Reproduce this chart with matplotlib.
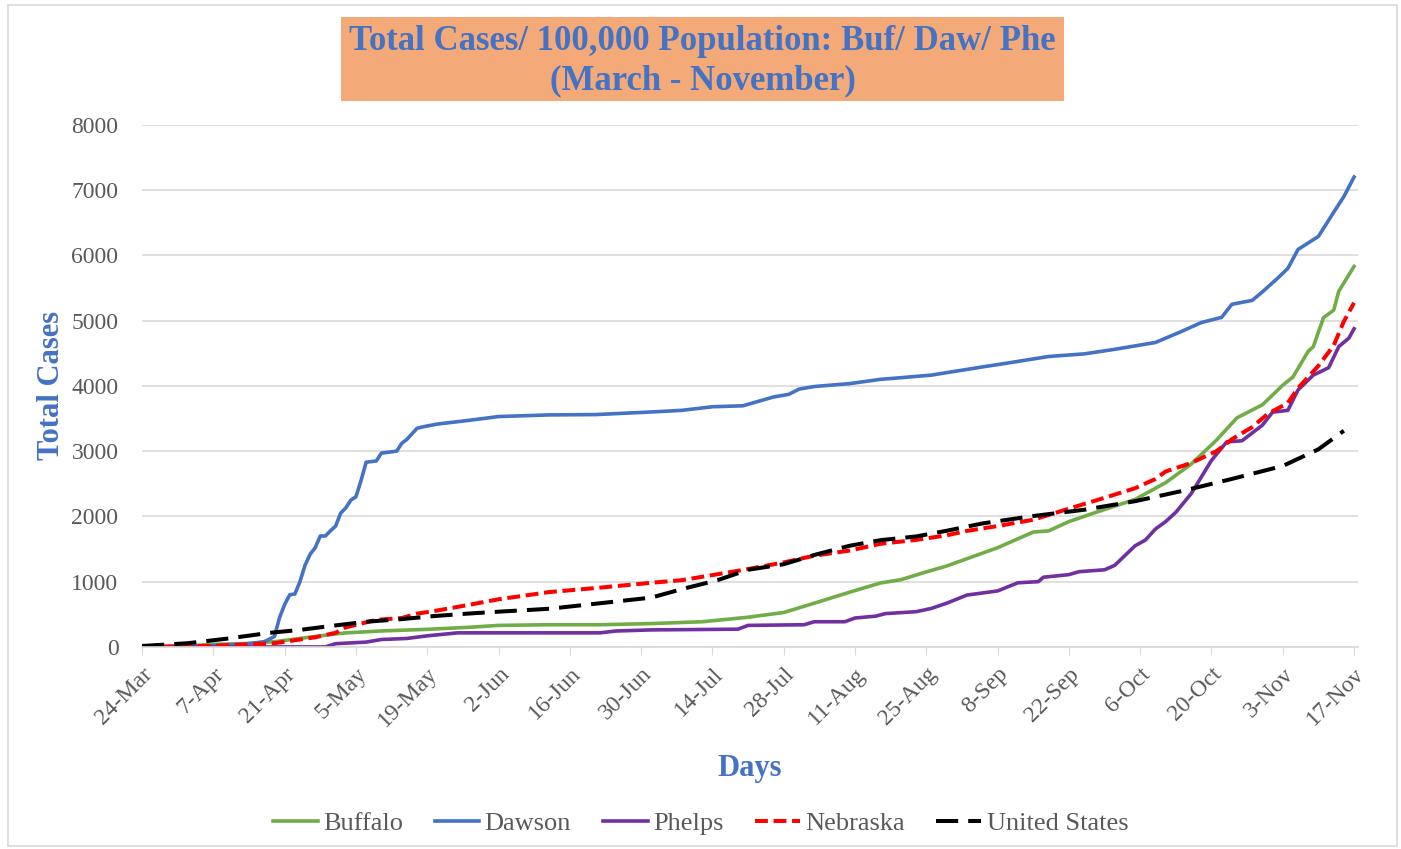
import numpy as np
import pandas as pd
import matplotlib
matplotlib.use("Agg")
import matplotlib.pyplot as plt
from matplotlib.patches import Rectangle

START = pd.Timestamp("2020-03-24")

# values: (day offset from 24-Mar, cases / 100k)
buffalo_days = [0, 10, 14, 20, 26, 28, 31, 35, 38, 40, 47, 56, 64, 70, 80, 90, 100, 110, 119,
                126, 132, 139, 145, 149, 154, 158, 162, 168, 175, 178, 182, 188, 195, 201, 206,
                211, 215, 220, 224, 226, 229, 230, 232, 234, 235, 238]
buffalo_vals = [0, 20, 40, 50, 80, 100, 130, 170, 200, 215, 245, 270, 300, 330, 340, 340, 358, 386, 455,
                528, 670, 840, 980, 1030, 1150, 1240, 1352, 1520, 1760, 1778, 1920, 2080, 2260, 2517, 2800,
                3170, 3510, 3710, 4010, 4136, 4530, 4600, 5045, 5160, 5450, 5830]

dawson_days = [0, 10, 20, 24, 26, 27, 28, 29, 30, 31, 32, 33, 34, 35, 36, 37, 38, 39, 40, 41, 42, 43,
               44, 46, 47, 50, 51, 52, 54, 55, 58, 64, 70, 80, 89, 100, 106, 112, 118, 120, 124, 127,
               129, 132, 139, 145, 149, 155, 165, 170, 178, 185, 191, 199, 204, 208, 212, 214, 218,
               220, 223, 225, 227, 231, 234, 236, 238]
dawson_vals = [0, 10, 40, 80, 160, 450, 650, 800, 810, 1000, 1250, 1420, 1520, 1700, 1700, 1780, 1850,
               2050, 2130, 2250, 2300, 2550, 2830, 2850, 2970, 3000, 3120, 3180, 3350, 3370, 3415, 3470,
               3530, 3555, 3560, 3600, 3625, 3680, 3695, 3740, 3830, 3870, 3950, 3990, 4035, 4100, 4125,
               4165, 4290, 4350, 4450, 4490, 4560, 4665, 4830, 4970, 5050, 5250, 5310, 5440, 5650, 5800,
               6090, 6290, 6660, 6900, 7200]

phelps_days = [0, 36, 38, 44, 47, 52, 56, 62, 90, 93, 100, 117, 119, 130, 132, 138, 140, 144, 146, 152,
               155, 158, 162, 168, 172, 176, 177, 182, 184, 189, 191, 195, 197, 199, 201, 203, 206, 208,
               210, 213, 216, 220, 222, 225, 227, 230, 233, 235, 237, 238]
phelps_vals = [0, 0, 50, 74, 114, 130, 170, 216, 216, 244, 261, 272, 330, 340, 386, 386, 443, 471, 511,
               540, 590, 670, 795, 858, 983, 1000, 1068, 1108, 1153, 1182, 1250, 1550, 1636, 1807, 1920,
               2063, 2347, 2602, 2858, 3142, 3159, 3398, 3597, 3625, 3938, 4165, 4278, 4602, 4733, 4875]

nebraska_days = [0, 14, 26, 29, 34, 38, 40, 43, 46, 51, 54, 57, 64, 70, 80, 90, 100, 106, 113, 119, 126,
                 132, 139, 145, 152, 158, 162, 168, 175, 182, 188, 195, 199, 201, 206, 211, 214, 218,
                 221, 225, 227, 231, 234, 236, 238]
nebraska_vals = [0, 17, 57, 91, 148, 216, 300, 358, 415, 443, 511, 545, 642, 730, 841, 909, 983, 1023,
                 1114, 1193, 1295, 1398, 1477, 1580, 1640, 1710, 1778, 1852, 1949, 2119, 2261, 2432,
                 2574, 2688, 2818, 3000, 3182, 3369, 3568, 3739, 3966, 4307, 4619, 4989, 5273]

us_days = [0, 9, 17, 25, 31, 38, 44, 51, 57, 64, 70, 80, 90, 100, 106, 113, 119, 126, 132, 139, 145,
           152, 158, 165, 175, 185, 195, 205, 214, 224, 231, 236]
us_vals = [15, 57, 130, 216, 261, 330, 386, 426, 471, 511, 540, 585, 670, 756, 886, 1023, 1182, 1267,
           1409, 1551, 1636, 1693, 1780, 1892, 2006, 2102, 2233, 2403, 2574, 2773, 3028, 3312]

tick_labels = ["24-Mar", "7-Apr", "21-Apr", "5-May", "19-May", "2-Jun", "16-Jun", "30-Jun", "14-Jul",
               "28-Jul", "11-Aug", "25-Aug", "8-Sep", "22-Sep", "6-Oct", "20-Oct", "3-Nov", "17-Nov"]


def to_dates(days):
    return START + pd.to_timedelta(days, unit="D")


FONT = "Liberation Serif"
BLUE = "#4472C4"
GREY = "#595959"

fig = plt.figure(figsize=(14.01, 8.49), dpi=100)
ax = fig.add_axes([0.1014, 0.238, 0.868, 0.615])

lw = 2.6
ax.plot(to_dates(buffalo_days), buffalo_vals, color="#70AD47", lw=lw, label="Buffalo")
ax.plot(to_dates(dawson_days), dawson_vals, color=BLUE, lw=lw, label="Dawson")
ax.plot(to_dates(phelps_days), phelps_vals, color="#7030A0", lw=lw, label="Phelps")
ax.plot(to_dates(nebraska_days), nebraska_vals, color="#FF0000", lw=lw + 0.3, ls=(0, (3.2, 1.4)),
        label="Nebraska")
ax.plot(to_dates(us_days), us_vals, color="black", lw=lw + 0.3, ls=(0, (5.5, 2.5)), label="United States")

ticks = START + pd.to_timedelta(np.arange(0, 239, 14), unit="D")
ax.set_xticks(ticks)
ax.set_xticklabels(tick_labels, rotation=45, ha="right", va="top", rotation_mode="anchor",
                   fontsize=17, color=GREY, family=FONT)
ax.set_xlim(START, START + pd.Timedelta(days=238.8))
ax.set_ylim(0, 8000)
ax.set_yticks(range(0, 8001, 1000))
ax.set_yticklabels([str(v) for v in range(0, 8001, 1000)], fontsize=17, color=GREY, family=FONT)
ax.tick_params(axis="y", length=0, pad=17)
ax.tick_params(axis="x", length=6, color="#d9d9d9", pad=6)
ax.grid(axis="y", color="#d9d9d9", lw=1.2)
ax.set_axisbelow(True)
for s in ["top", "right", "left"]:
    ax.spines[s].set_visible(False)
ax.spines["bottom"].set_color("#d9d9d9")
ax.spines["bottom"].set_linewidth(1.2)

ax.set_ylabel("Total Cases", fontsize=22, color=BLUE, fontweight="bold", family=FONT, labelpad=4)
ax.set_xlabel("Days", fontsize=22, color=BLUE, fontweight="bold", family=FONT, labelpad=16)

# title box
fig.patches.append(Rectangle((0.2434, 0.881), 0.5161, 0.099, transform=fig.transFigure,
                             facecolor="#F4AA78", edgecolor="none", zorder=0))
fig.text(0.5016, 0.951, "Total Cases/ 100,000 Population: Buf/ Daw/ Phe", ha="center", va="center",
         fontsize=25, color=BLUE, fontweight="bold", family=FONT)
fig.text(0.5016, 0.905, "(March - November)", ha="center", va="center",
         fontsize=25, color=BLUE, fontweight="bold", family=FONT)

# outer border
fig.patches.append(Rectangle((0.006, 0.004), 0.991, 0.99, transform=fig.transFigure,
                             facecolor="none", edgecolor="#d9d9d9", lw=1.2))

leg = fig.legend(loc="center", bbox_to_anchor=(0.5, 0.03), ncol=5, frameon=False,
                 handlelength=1.7, handletextpad=0.2, columnspacing=1.2,
                 prop={"family": FONT, "size": 19})
for t in leg.get_texts():
    t.set_color(GREY)

fig.savefig("out.png", dpi=100)
